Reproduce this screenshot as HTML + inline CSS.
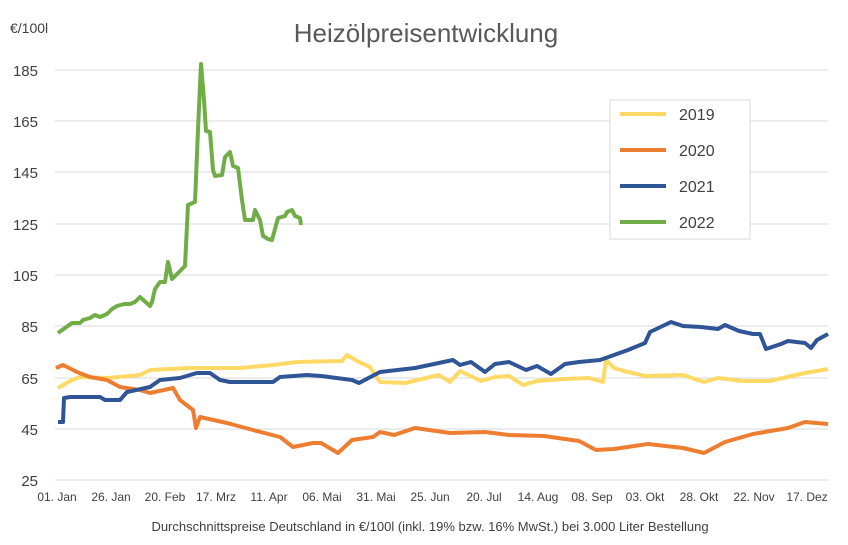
<!DOCTYPE html>
<html><head><meta charset="utf-8"><style>
body{margin:0;background:#fff;}
svg{display:block;font-family:"Liberation Sans",sans-serif;}
</style></head><body>
<svg width="848" height="545" viewBox="0 0 848 545">
<rect width="848" height="545" fill="#fff"/>
<text x="426" y="42" text-anchor="middle" font-size="26" fill="#595959">Heizölpreisentwicklung</text>
<text x="10" y="33" font-size="14" fill="#404040">€/100l</text>
<g stroke="#d9d9d9" stroke-width="1">
<line x1="55" x2="828" y1="70" y2="70"/><line x1="55" x2="828" y1="121" y2="121"/>
<line x1="55" x2="828" y1="172" y2="172"/><line x1="55" x2="828" y1="224" y2="224"/>
<line x1="55" x2="828" y1="275" y2="275"/><line x1="55" x2="828" y1="326" y2="326"/>
<line x1="55" x2="828" y1="378" y2="378"/><line x1="55" x2="828" y1="429" y2="429"/>
<line x1="55" x2="828" y1="480" y2="480"/>
</g>
<g font-size="15" fill="#404040" text-anchor="end">
<text x="38" y="76">185</text><text x="38" y="127">165</text><text x="38" y="178">145</text>
<text x="38" y="230">125</text><text x="38" y="281">105</text><text x="38" y="332">85</text>
<text x="38" y="384">65</text><text x="38" y="435">45</text><text x="38" y="486">25</text>
</g>
<g font-size="12" fill="#404040" text-anchor="middle">
<text x="57" y="501">01. Jan</text><text x="111" y="501">26. Jan</text><text x="165" y="501">20. Feb</text>
<text x="216" y="501">17. Mrz</text><text x="269" y="501">11. Apr</text><text x="322" y="501">06. Mai</text>
<text x="376" y="501">31. Mai</text><text x="430" y="501">25. Jun</text><text x="484" y="501">20. Jul</text>
<text x="538" y="501">14. Aug</text><text x="592" y="501">08. Sep</text><text x="645" y="501">03. Okt</text>
<text x="699" y="501">28. Okt</text><text x="754" y="501">22. Nov</text><text x="807" y="501">17. Dez</text>
</g>
<text x="430" y="531" text-anchor="middle" font-size="13" fill="#404040">Durchschnittspreise Deutschland in €/100l (inkl. 19% bzw. 16%  MwSt.) bei 3.000 Liter Bestellung</text>
<g fill="none" stroke-width="4" stroke-linejoin="round">
<polyline stroke="#ffd966" points="58,388 70,381 80,377 107,378 140,375 150,370 190,368 240,368 273,365 297,362 342,361 347,355 359,362 370,367 380,382 405,383 439,375 450,382 460,371 481,381 495,377 509,376 523,385 537,381 565,379 589,378 603,382 606,360 614,368 624,371 645,376 683,375 704,382 718,378 742,381 770,381 805,373 828,369"/>
<polyline stroke="#ed7d31" points="56,368 63,365 77,372 90,377 107,380 120,387 140,390 150,393 173,388 180,400 193,410 196,428 200,417 227,423 253,430 280,437 293,447 313,443 321,443 338,453 352,440 373,437 380,432 394,435 415,428 450,433 485,432 509,435 544,436 579,441 596,450 614,449 648,444 683,448 704,453 725,442 753,434 788,428 805,422 828,424"/>
<polyline stroke="#2f5597" points="58,422 63,422 64,398 70,397 100,397 105,400 120,400 127,392 150,387 160,380 180,378 190,375 197,373 210,373 220,380 230,382 273,382 280,377 307,375 321,376 352,380 359,383 380,372 415,368 453,360 460,365 471,362 485,372 495,364 509,362 526,370 537,366 551,374 565,364 579,362 600,360 614,355 628,350 645,343 650,332 671,322 683,326 701,327 718,329 725,325 739,331 753,334 760,334 766,349 781,344 788,341 805,343 811,348 817,340 828,334"/>
<polyline stroke="#70ad47" points="58,333 65,328 72,323 80,323 83,320 90,318 95,315 100,317 107,314 112,309 117,306 124,304 130,304 135,302 140,297 150,306 152,302 155,289 160,282 165,282 168,262 172,279 185,266 188,205 195,202 198,130 200,85 201,64 204,100 206,131 210,132 213,170 215,176 222,175 225,157 230,152 233,166 238,168 242,200 245,220 253,220 255,210 260,220 263,236 268,239 272,240 278,218 285,216 287,212 292,210 295,216 300,218 301,225"/>
</g>
<rect x="610" y="100" width="140" height="139" fill="#fff" stroke="#d9d9d9"/>
<g stroke-width="4">
<line x1="620" x2="666" y1="114" y2="114" stroke="#ffd966"/>
<line x1="620" x2="666" y1="150" y2="150" stroke="#ed7d31"/>
<line x1="620" x2="666" y1="186" y2="186" stroke="#2f5597"/>
<line x1="620" x2="666" y1="222" y2="222" stroke="#70ad47"/>
</g>
<g font-size="16" fill="#404040">
<text x="679" y="120">2019</text><text x="679" y="156">2020</text>
<text x="679" y="192">2021</text><text x="679" y="228">2022</text>
</g>
</svg>
</body></html>
